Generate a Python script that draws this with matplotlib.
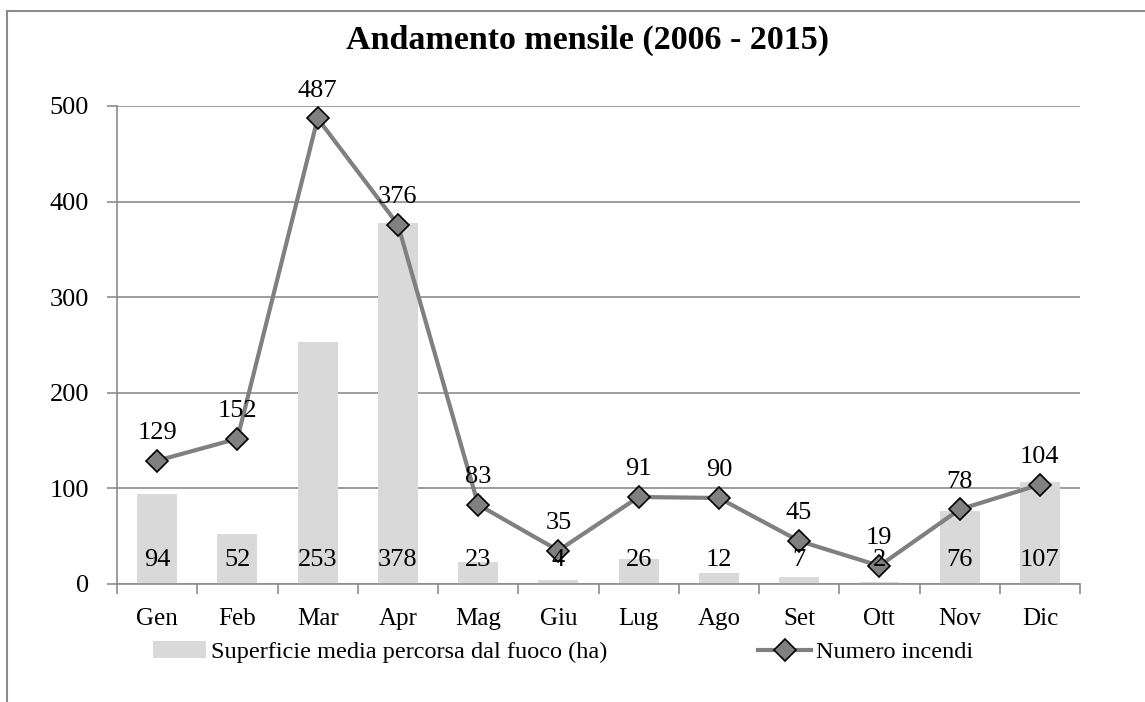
import matplotlib.pyplot as plt
from matplotlib.lines import Line2D
from matplotlib.patches import Patch
import numpy as np

mesi = ["Gen", "Feb", "Mar", "Apr", "Mag", "Giu", "Lug", "Ago", "Set", "Ott", "Nov", "Dic"]
superficie = [94, 52, 253, 378, 23, 4, 26, 12, 7, 2, 76, 107]
incendi = [129, 152, 487, 376, 83, 35, 91, 90, 45, 19, 78, 104]

plt.rcParams['font.family'] = ['Liberation Serif', 'DejaVu Serif']
FS_NUM = 19
FS_TXT = 18

fig = plt.figure(figsize=(11.45, 7.02), dpi=100)
ax = fig.add_axes([117 / 1145, 1 - 584 / 702, (1080 - 117) / 1145, (584 - 106) / 702])

x = np.arange(len(mesi))
ax.bar(x, superficie, width=0.5, color="#d9d9d9", zorder=2)
ax.plot(x, incendi, color="#808080", lw=3, marker="D", markersize=11,
        markerfacecolor="#808080", markeredgecolor="black", markeredgewidth=1.2, zorder=3)

for xi, v in zip(x, superficie):
    ax.annotate(str(v), (xi, 0), xytext=(0, 17), textcoords="offset points",
                ha="center", va="center", fontsize=FS_NUM, zorder=4)
for xi, v in zip(x, incendi):
    ax.annotate(str(v), (xi, v), xytext=(0, 20), textcoords="offset points",
                ha="center", va="center", fontsize=FS_NUM, zorder=4)

ax.set_xlim(-0.5, len(mesi) - 0.5)
ax.set_ylim(0, 500)
ax.set_yticks([0, 100, 200, 300, 400, 500])
ax.yaxis.grid(True, color="#8c8c8c", lw=1.2, zorder=0)
ax.set_axisbelow(True)

ax.set_xticks(x)
ax.set_xticklabels(mesi)
ax.set_xticks(np.arange(-0.5, len(mesi)), minor=True)
ax.tick_params(axis="x", which="major", length=0, pad=17, labelsize=FS_TXT)
ax.tick_params(axis="x", which="minor", length=7, width=1.2, color="#8c8c8c")
ax.tick_params(axis="y", length=7, width=1.2, color="#8c8c8c", labelsize=FS_NUM, pad=13)

for s in ["top", "right"]:
    ax.spines[s].set_visible(False)
for s in ["left", "bottom"]:
    ax.spines[s].set_color("#8c8c8c")
    ax.spines[s].set_linewidth(1.2)

fig.text(588 / 1145, 1 - 40 / 702, "Andamento mensile (2006 - 2015)", ha="center", va="center",
         fontsize=24.5, fontweight="bold")

handles = [Patch(facecolor="#d9d9d9", edgecolor="none"),
           Line2D([0], [0], color="#808080", lw=3, marker="D", markersize=11,
                  markerfacecolor="#808080", markeredgecolor="black", markeredgewidth=1.2)]
fig.legend(handles, ["Superficie media percorsa dal fuoco (ha)", "Numero incendi"],
           loc="center", bbox_to_anchor=(563 / 1145, 1 - 652 / 702), ncol=2, frameon=False,
           fontsize=17.5, handlelength=2.2, handletextpad=0.2, columnspacing=6.2)

# outer chart frame
fig.add_artist(Line2D([7 / 1145, 7 / 1145], [0, 1 - 11 / 702], color="#8c8c8c", lw=1.5))
fig.add_artist(Line2D([7 / 1145, 1], [1 - 11 / 702, 1 - 11 / 702], color="#8c8c8c", lw=1.5))

fig.savefig("out.png", dpi=100)
